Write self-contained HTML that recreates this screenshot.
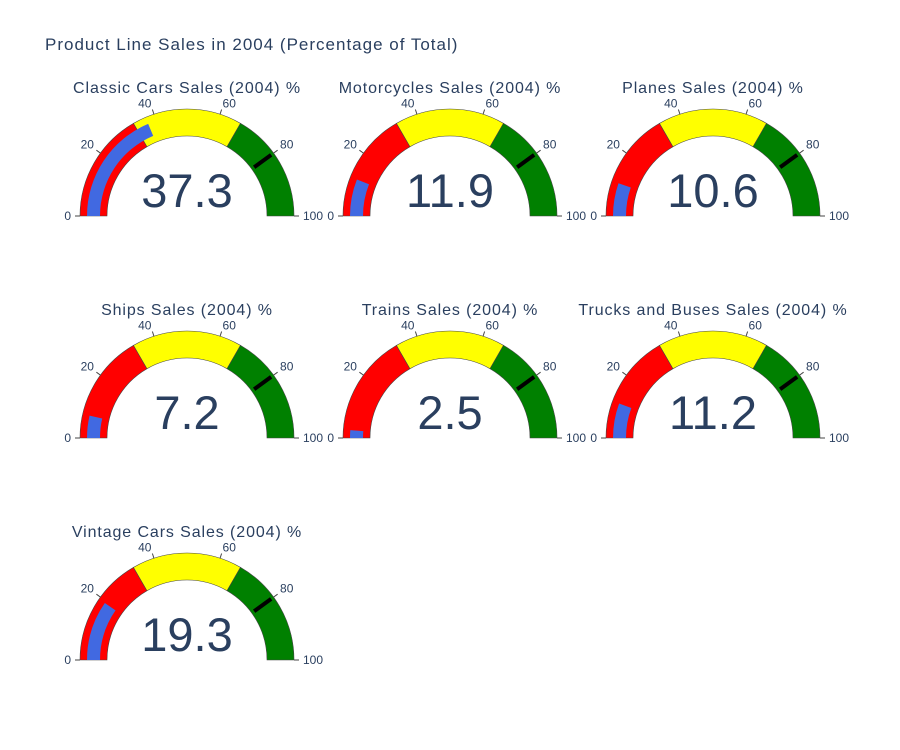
<!DOCTYPE html>
<html><head><meta charset="utf-8"><style>
html,body{margin:0;padding:0;background:#fff;}
svg{display:block;font-family:"Liberation Sans",sans-serif;}
</style></head><body>
<svg id="chart" width="900" height="750" viewBox="0 0 900 750">
<text x="45" y="50" font-size="17" letter-spacing="1" fill="#2a3f5f">Product Line Sales in 2004 (Percentage of Total)</text>
</svg>
<script>
const categories = ["Classic Cars","Motorcycles","Planes","Ships","Trains","Trucks and Buses","Vintage Cars"];
const values = [37.3, 11.9, 10.6, 7.2, 2.5, 11.2, 19.3];
const stepBounds = [0, 33.33, 66.67, 100];
const stepColors = ["red","yellow","green"];
const thresholdValue = 80;
const tickValues = [0,20,40,60,80,100];

const svg = document.getElementById('chart');
const NS = 'http://www.w3.org/2000/svg';
const colX = [187, 450, 713], rowY = [216, 438, 660];
const R = 107, r = 80;
function ang(v){ return Math.PI * (1 - v/100); }
function pt(cx,cy,rad,v){ const a=ang(v); return [cx+rad*Math.cos(a), cy-rad*Math.sin(a)]; }
function arcPath(cx,cy,r1,r2,v0,v1){
  const a=pt(cx,cy,r2,v0), b=pt(cx,cy,r2,v1), c=pt(cx,cy,r1,v1), d=pt(cx,cy,r1,v0);
  const large = (v1-v0)>100?1:0;
  return `M${a[0]},${a[1]} A${r2},${r2} 0 ${large} 1 ${b[0]},${b[1]} L${c[0]},${c[1]} A${r1},${r1} 0 ${large} 0 ${d[0]},${d[1]} Z`;
}
function mk(tag, attrs, parent){ const e=document.createElementNS(NS,tag); for(const k in attrs) e.setAttribute(k,attrs[k]); (parent||svg).appendChild(e); return e; }

categories.forEach((cat,i)=>{
  const cx = colX[i%3], cy = rowY[Math.floor(i/3)];
  const g = mk('g',{});
  
  
  const t = mk('text',{x:cx, y:cy-123, 'font-size':16, 'letter-spacing':0.9, fill:'#2a3f5f', 'text-anchor':'middle'}, g);
  t.textContent = cat + ' Sales (2004) %';
  
  
  for(let s=0;s<stepColors.length;s++){
    const p = mk('path',{d:arcPath(cx,cy,r,R,stepBounds[s],stepBounds[s+1]), fill:stepColors[s], stroke:'#444', 'stroke-width':0.6}, g);
    
    
  }
  const bar = mk('path',{d:arcPath(cx,cy,87,100,0,values[i]), fill:'royalblue'}, g);
  
  
  const t1=pt(cx,cy,83,thresholdValue), t2=pt(cx,cy,104,thresholdValue);
  const th = mk('line',{x1:t1[0],y1:t1[1],x2:t2[0],y2:t2[1],stroke:'#000','stroke-width':4}, g);
  
  
  tickValues.forEach(v=>{
    const a=pt(cx,cy,R,v), b=pt(cx,cy,R+5,v);
    const tk = mk('line',{x1:a[0],y1:a[1],x2:b[0],y2:b[1],stroke:'#444','stroke-width':1}, g);
    
    
    const lp = pt(cx,cy,R+8,v);
    let anchor = 'middle', dx=0, dy=4;
    if (v===0){ anchor='end'; dx=-1; }
    else if (v===100){ anchor='start'; dx=1; }
    else if (v<50){ anchor='end'; dy=0; }
    else if (v>50){ anchor='start'; dy=0; }
    if (v===40||v===60){ dy=1; }
    const tl = mk('text',{x:lp[0]+dx, y:lp[1]+dy, 'font-size':12, fill:'#2a3f5f', 'text-anchor':anchor}, g);
    tl.textContent = v;
    
    
  });
  const vt = mk('text',{x:cx, y:cy-9, 'font-size':47, fill:'#2a3f5f', 'text-anchor':'middle'}, g);
  vt.textContent = values[i].toFixed(1);
  
  
});
</script>
</body></html>
